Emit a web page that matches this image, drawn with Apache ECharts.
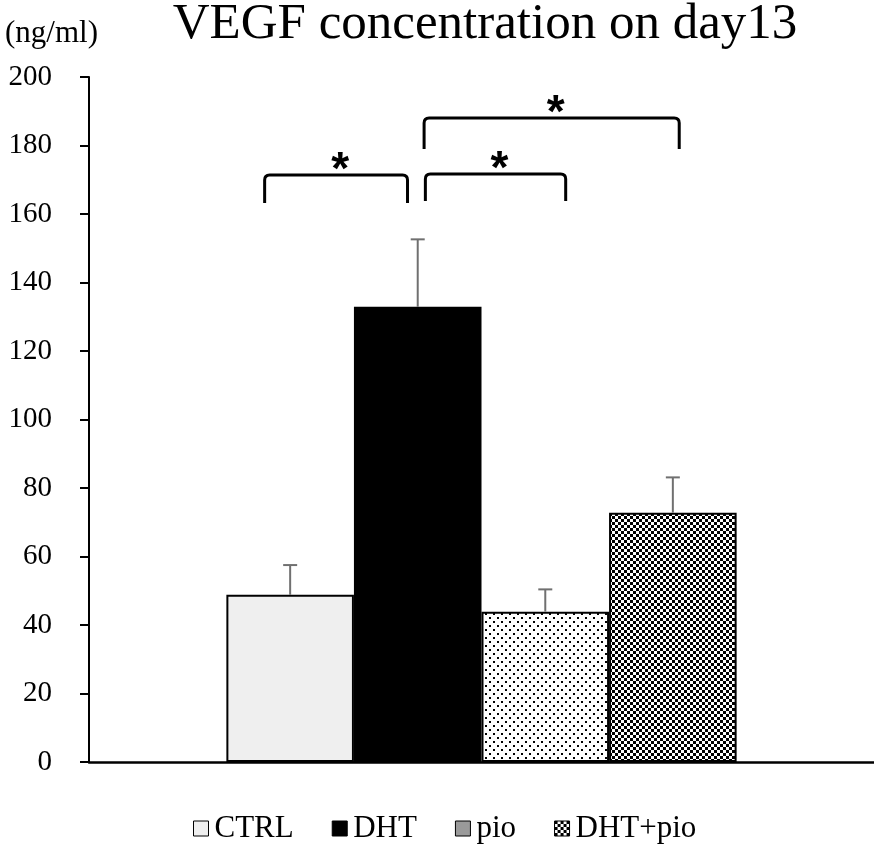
<!DOCTYPE html>
<html><head><meta charset="utf-8">
<script src="https://cdn.jsdelivr.net/npm/echarts@6/dist/echarts.min.js"></script>
<style>html,body{margin:0;padding:0;background:#fff}#c{width:874px;height:851px}</style>
</head><body><div id="c"></div>
<script>
const categories = ['day13'];
const groups = ['CTRL', 'DHT', 'pio', 'DHT+pio'];
const means = [48.8, 132.9, 43.9, 72.8];
const errors = [8.7, 19.7, 6.5, 10.3];
const yTicks = [0, 20, 40, 60, 80, 100, 120, 140, 160, 180, 200];
// significance brackets: [from bar pos, to bar pos, top value, leg bottom value]
const brackets = [
  [0.30, 1.42, 171.4, 163.2],
  [1.56, 2.66, 171.7, 163.8],
  [1.55, 3.55, 188.0, 179.0]
];

const SERIF = '"Liberation Serif","Times New Roman",serif';
function dotPattern(){
  const c=document.createElement('canvas');c.width=8;c.height=8;
  const x=c.getContext('2d');x.fillStyle='#fff';x.fillRect(0,0,8,8);
  x.fillStyle='#000';x.fillRect(1,1,2,2);x.fillRect(5,5,2,2);return c;
}
function checkPattern(){
  const c=document.createElement('canvas');c.width=6;c.height=6;
  const x=c.getContext('2d');x.fillStyle='#fff';x.fillRect(0,0,6,6);
  x.fillStyle='#000';x.fillRect(0,0,3,3);x.fillRect(3,3,3,3);return c;
}
const fills = ['#efefef', '#000000', {image: dotPattern(), repeat: 'repeat'}, {image: checkPattern(), repeat: 'repeat'}];
const legendFills = ['#efefef', '#000000', '#9a9a9a', {image: checkPattern(), repeat: 'repeat'}];
const CAT_GAP = 0.35;

const chart = echarts.init(document.getElementById('c'), null, {renderer:'canvas'});

function barGeom(api, pos){
  const center = api.coord([0, 0]);
  const band = api.size([1, 0])[0];
  const bw = band * (1 - CAT_GAP) / groups.length;
  const left = center[0] - bw * groups.length / 2;
  return left + pos * bw;
}

const barSeries = groups.map((g, i) => ({
  name: g, type: 'bar', barGap: '0%', barCategoryGap: (CAT_GAP*100)+'%',
  data: [means[i]],
  itemStyle: {color: fills[i], borderColor: '#000', borderWidth: 2},
  z: 2
}));

const errSeries = {
  type: 'custom', name: 'err', z: 3, silent: true,
  data: groups.map((g, i) => [i, means[i], errors[i]]),
  renderItem: function(params, api){
    const i = api.value(0);
    const x = barGeom(api, i + 0.5);
    const y0 = api.coord([0, api.value(1)])[1];
    const y1 = api.coord([0, api.value(1) + api.value(2)])[1];
    const st = {stroke: '#707070', lineWidth: 2};
    return {type: 'group', children: [
      {type: 'line', shape: {x1: x, y1: y0, x2: x, y2: y1}, style: st},
      {type: 'line', shape: {x1: x - 7, y1: y1, x2: x + 7, y2: y1}, style: st}
    ]};
  }
};

const brSeries = {
  type: 'custom', name: 'br', z: 4, silent: true,
  data: brackets,
  renderItem: function(params, api){
    const xa = barGeom(api, api.value(0));
    const xb = barGeom(api, api.value(1));
    const yt = api.coord([0, api.value(2)])[1];
    const yb = api.coord([0, api.value(3)])[1];
    const r = 5;
    const path = 'M' + xa + ' ' + yb + ' L' + xa + ' ' + (yt + r) + ' Q' + xa + ' ' + yt + ' ' + (xa + r) + ' ' + yt +
      ' L' + (xb - r) + ' ' + yt + ' Q' + xb + ' ' + yt + ' ' + xb + ' ' + (yt + r) + ' L' + xb + ' ' + yb;
    return {type: 'group', children: [
      {type: 'path', shape: {pathData: path}, style: {stroke: '#000', lineWidth: 3, fill: null}},
      {type: 'text', style: {text: '*', x: (xa + xb) / 2 + 4, y: yt - 4, textAlign: 'center', textVerticalAlign: 'middle',
        font: 'bold 46px "Liberation Sans",Arial,sans-serif', fill: '#000'}}
    ]};
  }
};

chart.setOption({
  animation: false,
  backgroundColor: '#fff',
  title: {text: 'VEGF concentration on day13', left: 480, top: -6, textAlign: 'center',
    textStyle: {fontFamily: SERIF, fontSize: 51, fontWeight: 'normal', color: '#000'}},
  legend: {
    bottom: 2, left: 188, itemWidth: 15, itemHeight: 15, itemGap: 38, icon: 'rect',
    textStyle: {fontFamily: SERIF, fontSize: 31, color: '#000', padding: [0, 0, 0, 1]},
    data: groups.map((g, i) => ({name: g, itemStyle: {color: legendFills[i], borderColor: '#000', borderWidth: 1}}))
  },
  grid: {left: 89, right: 0, top: 77, bottom: 89, containLabel: false},
  xAxis: {type: 'category', data: categories,
    axisLine: {lineStyle: {color: '#000', width: 2.5}}, axisTick: {show: false}, axisLabel: {show: false}},
  yAxis: {type: 'value', min: yTicks[0], max: yTicks[yTicks.length-1], interval: 20,
    name: '(ng/ml)', nameLocation: 'end', nameGap: 28,
    nameTextStyle: {fontFamily: SERIF, fontSize: 31, color: '#000', align: 'left', padding: [0,0,0,-84]},
    axisLine: {show: true, lineStyle: {color: '#000', width: 2}},
    axisTick: {show: true, inside: false, length: 9, lineStyle: {color: '#000', width: 2}},
    axisLabel: {fontFamily: SERIF, fontSize: 29, color: '#000', margin: 37},
    splitLine: {show: false}},
  series: barSeries.concat([errSeries, brSeries])
});
</script></body></html>
